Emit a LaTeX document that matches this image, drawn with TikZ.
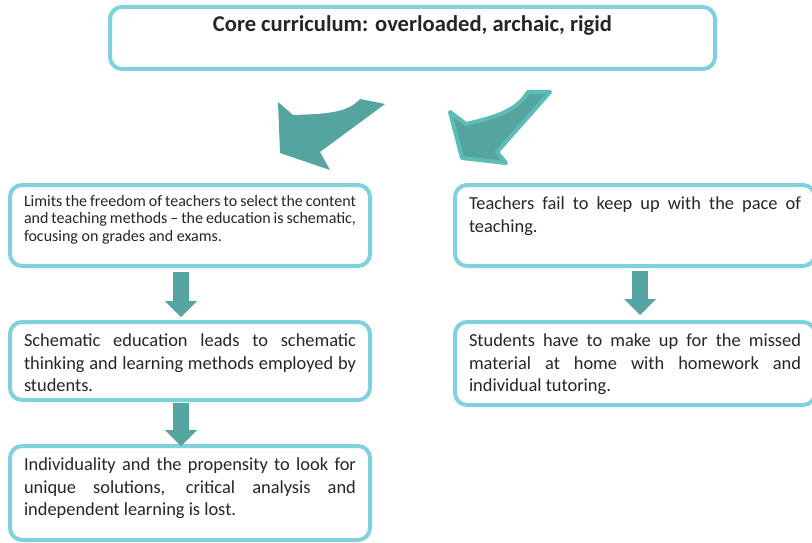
\documentclass[tikz,border=0pt]{standalone}
\usepackage{fontspec}
\setmainfont{Carlito}
\usetikzlibrary{arrows.meta}

\definecolor{boxline}{HTML}{7FD1DE}
\definecolor{tealfill}{HTML}{54A59F}
\definecolor{tealedge}{HTML}{5CBDB8}
\definecolor{inktext}{HTML}{262626}

% fixed-height text cell, lines start at the top
\newcommand{\cellpar}[2]{\parbox[t][#1][t]{332pt}{\strut #2}}

\begin{document}
\begin{tikzpicture}[x=1pt, y=-1pt, every node/.style={text=inktext},
    cell/.style={draw=boxline, line width=4pt, rounded corners=12pt, fill=white,
        inner xsep=14pt, inner ysep=9pt, anchor=north west,
        font=\fontsize{18.4}{22.4}\selectfont},
    blockarrow/.style={draw=tealfill, line width=16pt,
        -{Triangle[width=32pt, length=16pt, line width=0pt]}}]

\useasboundingbox (0,0) rectangle (812,543);

% Draw the boxes
\node[cell] (core) at (108,5) {\parbox[t][44pt][t]{577pt}{\centering\fontsize{22.6}{22}\selectfont\bfseries\strut Core curriculum: overloaded, archaic, rigid}};

\node[cell, font=\fontsize{16}{17.5}\selectfont] (limits) at (8,183)
    {\cellpar{63pt}{Limits the freedom of teachers to select the content\linebreak and teaching methods -- the education is schematic,\linebreak focusing on grades and exams.}};
\node[cell] (schematic) at (8,320)
    {\cellpar{60pt}{Schematic education leads to schematic\linebreak thinking and learning methods employed by\linebreak students.}};
\node[cell] (lost) at (8,444)
    {\cellpar{76pt}{Individuality and the propensity to look for\linebreak unique solutions, critical analysis and\linebreak independent learning is lost.}};

\node[cell] (fail) at (453,183)
    {\cellpar{63pt}{Teachers fail to keep up with the pace of\linebreak teaching.}};
\node[cell] (makeup) at (453,320)
    {\cellpar{65pt}{Students have to make up for the missed\linebreak material at home with homework and\linebreak individual tutoring.}};

% Draw the curved arrows below the title
\fill[tealfill] (278,102) -- (293,115) .. controls (325,114) and (348,113) .. (360,99)
    -- (385,104) -- (320,152) -- (330,170) -- (280,153) -- cycle;   % towards left column
\filldraw[fill=tealfill, draw=tealedge, line width=4pt, line join=round]
    (450,112) -- (466,124) .. controls (492,118) and (516,112) .. (528,92)
    -- (550,92) -- (497,152) -- (506,163) -- (462,158) -- cycle;    % towards right column

% Draw the down arrows
\draw[blockarrow, shorten <=4pt, shorten >=3pt] ([xshift=-9pt]limits.south) -- ([xshift=-9pt]schematic.north);
\draw[blockarrow, shorten <=1pt, shorten >=-2pt] ([xshift=-9pt]schematic.south) -- ([xshift=-9pt]lost.north);
\draw[blockarrow, shorten <=3pt, shorten >=5pt] ([xshift=5pt]fail.south) -- ([xshift=5pt]makeup.north);

\end{tikzpicture}
\end{document}
